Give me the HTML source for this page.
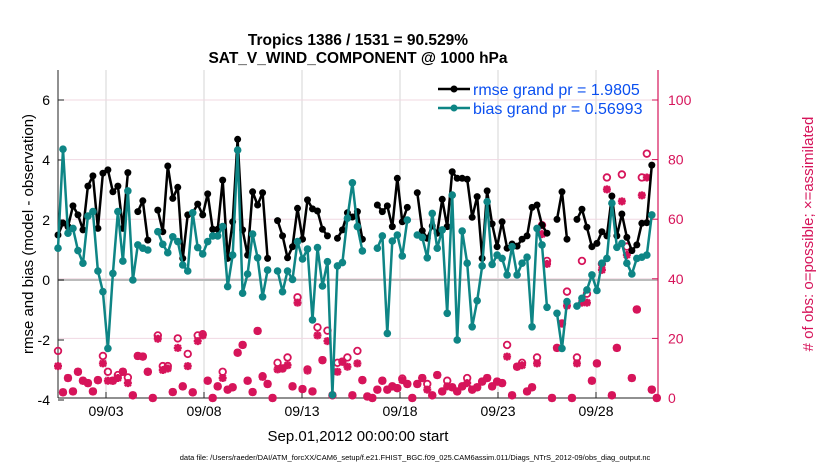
<!DOCTYPE html>
<html><head><meta charset="utf-8"><style>
body{margin:0;background:#fff;}
svg text{font-family:"Liberation Sans",Arial,sans-serif;}
</style></head><body>
<svg id="chart" width="830" height="470" viewBox="0 0 830 470" xmlns="http://www.w3.org/2000/svg">
<text x="358" y="45" text-anchor="middle" font-size="15.5" font-weight="bold">Tropics 1386 / 1531 = 90.529%</text>
<text x="358" y="63" text-anchor="middle" font-size="15.5" font-weight="bold">SAT_V_WIND_COMPONENT @ 1000 hPa</text>
<g id="grid"></g>
<g id="axes"></g>
<g id="obs"></g>
<g id="series"></g>
<g>
<line x1="438" y1="89" x2="470" y2="89" stroke="#000" stroke-width="2.5"/>
<circle cx="454" cy="89" r="3.5" fill="#000"/>
<text x="473" y="95" font-size="16" fill="#0a4ff0">rmse grand pr = 1.9805</text>
<line x1="438" y1="108" x2="470" y2="108" stroke="#0e8585" stroke-width="2.5"/>
<circle cx="454" cy="108" r="3.5" fill="#0e8585"/>
<text x="473" y="114" font-size="16" fill="#0a4ff0">bias grand pr = 0.56993</text>
</g>
<text transform="translate(33,234) rotate(-90)" text-anchor="middle" font-size="15">rmse and bias (model - observation)</text>
<text transform="translate(813,234) rotate(-90)" text-anchor="middle" font-size="15" fill="#d6145a"># of obs: o=possible; ×=assimilated</text>
<text x="358" y="441" text-anchor="middle" font-size="15">Sep.01,2012 00:00:00 start</text>
<text x="415" y="460" text-anchor="middle" font-size="7.5">data file: /Users/raeder/DAI/ATM_forcXX/CAM6_setup/f.e21.FHIST_BGC.f09_025.CAM6assim.011/Diags_NTrS_2012-09/obs_diag_output.nc</text>
</svg>
<script>
const rmse=[1.5,1.9,1.78,2.47,2.17,1.67,3.13,3.47,1.72,3.56,3.67,2.94,3.13,1.72,3.58,null,2.28,2.64,1.33,null,
2.33,1.61,3.8,2.72,3.09,0.72,2.17,2.24,2.53,2.17,2.87,1.69,1.69,3.33,0.72,1.94,4.69,1.67,0.83,2.94,
2.5,2.91,0.72,null,1.98,1.47,0.74,1.11,2.39,1.36,2.67,2.37,2.3,1.69,1.47,null,1.39,1.67,2.24,2.1,
2.28,1.36,null,null,2.5,2.28,2.47,1.78,3.39,1.94,2.42,null,2.91,1.64,1.39,1.8,1.56,2.69,1.78,3.61,
3.39,3.39,3.36,2.09,2.78,0.72,2.97,1.87,1.11,1.94,1.06,1.2,1.13,1.36,1.47,2.42,2.5,1.83,1.56,null,
2.02,2.94,1.36,null,2.02,2.36,1.76,1.11,1.22,1.61,1.47,2.8,1.47,2.2,1.42,0.98,1.17,1.89,1.91,3.83,null];
const bias=[1.06,4.36,1.56,1.72,0.98,0.56,2.13,2.28,0.30,-0.39,-2.28,0.22,2.28,0.63,2.97,0,1.17,1.06,1.0,null,
1.61,1.19,0.91,1.44,1.28,0.5,0.3,2.24,1.08,0.87,1.28,1.47,1.47,1.78,-0.22,0.83,4.33,-0.44,0.2,1.53,
0.74,-0.56,0.33,null,0.3,-0.39,0.3,0.02,1.28,0.7,1.03,-1.33,1.08,-0.2,0.61,-3.83,0.47,0.58,2.06,3.24,
1.78,0.97,null,null,1.06,1.47,-1.78,1.3,1.5,0.8,2.0,null,1.5,1.42,0.74,2.22,1.06,1.67,-1.11,2.83,
-2.0,1.63,0.56,-1.56,-0.69,0.47,2.61,0.52,0.83,0.72,0.17,1.11,0.17,0.56,0.76,-1.56,1.72,1.17,-0.91,null,
-1.11,-2.28,-0.72,null,-0.87,-0.61,-0.33,0.17,-0.35,0.56,0.72,2.56,1.09,1.22,0.56,0.2,0.72,0.76,0.83,2.17,null];
const assim=[10.7,1.9,6.7,2.2,8.8,5.8,5.0,2.2,6.0,11.6,5.8,5.8,6.7,8.8,5.0,0.9,14.1,13.9,8.8,0,
19.9,9.4,9.9,2.0,16.8,3.9,10.7,1.9,19.1,21.0,5.8,0,3.9,6.7,2.8,3.6,15.2,17.8,5.8,2.0,
22.5,7.1,4.7,0,9.6,9.9,11.0,3.9,32,3.0,9.2,2.2,21,12.7,19.1,0.9,8.8,12.2,10.5,0.9,
11.6,6,0.5,0,2.8,5.8,2.8,3.9,3.3,6.0,4.7,0,4.7,6.7,2.8,0.9,7.7,2.2,3.9,3.6,
2.2,3.9,5.0,2.8,3.6,5.5,6.7,3.9,5.5,5.0,13.9,0.9,10.5,11,2.2,3.6,11.6,55,45,0,
16.8,25,31,0,11.6,32,32,5.8,11.6,43,70,0.9,16.8,66,48,6.7,29.7,68,74,2.8,0];
const poss=[15.8,1.9,6.7,2.2,8.8,5.8,5.0,2.2,6.0,14.1,8.8,5.8,7.7,8.8,6.9,0.9,14.1,13.9,8.8,0,
21,10.7,10.7,2.0,20,3.9,14.8,1.9,21,21.4,5.8,0,3.9,8.8,2.8,3.6,15.2,17.8,5.8,2.0,
22.5,7.3,4.7,0,11.8,9.9,13.6,3.9,33.8,3.0,9.6,2.2,23.7,12.7,22.6,0.9,11.8,12.2,13.6,0.9,
15.8,6,0.5,0,2.8,5.8,2.8,3.9,3.3,6.5,4.7,0,4.7,6.7,4.7,0.9,7.7,2.2,5.8,3.6,
2.2,3.9,6.7,2.8,3.6,5.5,6.7,3.9,5.5,5.0,17.8,0.9,10.5,11.8,2.2,3.6,13.6,58,46,0,
16.8,25,35.7,0,13.6,46,35,5.8,11.6,45,74,0.9,16.8,75,50.8,6.7,29.7,74,82,2.8,0];
const xTickDays=[3,8,13,18,23,28];
const xTickLabels=["09/03","09/08","09/13","09/18","09/23","09/28"];
const yTicks=[-4,-2,0,2,4,6];
const y2Ticks=[0,20,40,60,80,100];

const NS="http://www.w3.org/2000/svg";
const L=58,R=658,T=70,B=398;
const xIdx=i=>L+i*4.99;
const xDay=d=>106+(d-3)*19.6;
const yL=v=>280-v*30;
const yR=c=>B-c*2.98;
const TEAL="#0e8585",MAG="#d6145a";
function mk(tag,attrs,parent){const e=document.createElementNS(NS,tag);for(const k in attrs)e.setAttribute(k,attrs[k]);parent.appendChild(e);return e;}
const grid=document.getElementById('grid'),axes=document.getElementById('axes'),obs=document.getElementById('obs'),ser=document.getElementById('series');

xTickDays.forEach((d,k)=>{
  const x=xDay(d);
  const g=mk('line',{x1:x,y1:T,x2:x,y2:B,stroke:'#d6d6d6','stroke-width':1},grid);
  
  
  const t=mk('line',{x1:x,y1:B,x2:x,y2:B-6,stroke:'#222','stroke-width':1},axes);
  
  
  const tx=mk('text',{x:x,y:B+18,'text-anchor':'middle','font-size':14},axes);
  tx.textContent=xTickLabels[k];
  
  
});
y2Ticks.forEach(c=>{
  const y=yR(c);
  if(c>0){const g=mk('line',{x1:L,y1:y,x2:R,y2:y,stroke:'#f0d8e2','stroke-width':1},grid);
  
  }
  const t=mk('line',{x1:R,y1:y,x2:R-6,y2:y,stroke:MAG,'stroke-width':1},axes);
  
  
  const tx=mk('text',{x:R+10,y:y+5,'font-size':14,fill:MAG},axes);
  tx.textContent=c;
  
  
});
yTicks.forEach(v=>{
  const y=yL(v);
  const t=mk('line',{x1:L,y1:y,x2:L+6,y2:y,stroke:'#222','stroke-width':1},axes);
  
  
  const tx=mk('text',{x:L-8,y:y+5,'text-anchor':'end','font-size':14},axes);
  tx.textContent=v;
  
  
});
const zl=mk('line',{x1:L,y1:yL(0),x2:R,y2:yL(0),stroke:'#bbbbbb','stroke-width':2},grid);


const la=mk('line',{x1:L,y1:T,x2:L,y2:B,stroke:'#222','stroke-width':1},axes);


const ra=mk('line',{x1:R,y1:T,x2:R,y2:B,stroke:MAG,'stroke-width':1.2},axes);


const ba=mk('line',{x1:L,y1:B,x2:R,y2:B,stroke:'#222','stroke-width':1},axes);



poss.forEach((c,i)=>{
  const e=mk('circle',{cx:xIdx(i),cy:yR(c),r:3.3,fill:'none',stroke:MAG,'stroke-width':1.8},obs);
  
  
});
assim.forEach((c,i)=>{
  const x=xIdx(i),y=yR(c),s=4;
  const d=`M${x-s},${y}H${x+s}M${x},${y-s}V${y+s}M${x-3},${y-3}L${x+3},${y+3}M${x-3},${y+3}L${x+3},${y-3}`;
  const e=mk('path',{d:d,stroke:MAG,'stroke-width':2.4,fill:'none'},obs);
  
  
});

function drawSeries(vals,color,name,r){
  let d='',pen=false;
  vals.forEach((v,i)=>{
    if(v===null){pen=false;return;}
    d+=(pen?'L':'M')+xIdx(i).toFixed(1)+','+yL(v).toFixed(1);pen=true;
  });
  const p=mk('path',{d:d,stroke:color,'stroke-width':2.5,fill:'none','stroke-linejoin':'round'},ser);
  
  
  vals.forEach((v,i)=>{
    if(v===null)return;
    const c=mk('circle',{cx:xIdx(i),cy:yL(v),r:r,fill:color},ser);
    
    
  });
}
drawSeries(rmse,'#000','rmse',3.5);
drawSeries(bias,TEAL,'bias',3.8);
</script>
</body></html>
